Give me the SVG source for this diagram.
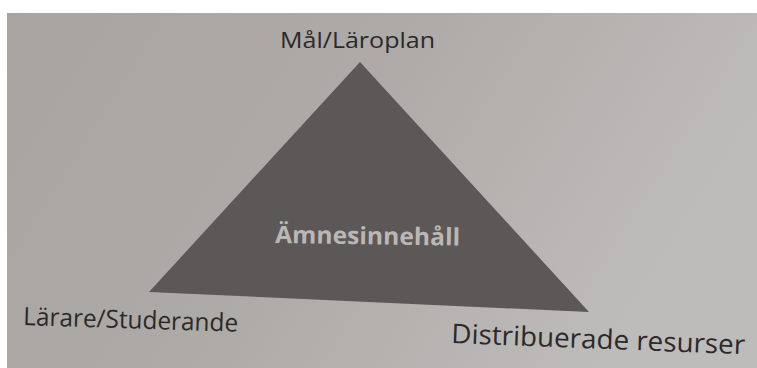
<svg xmlns="http://www.w3.org/2000/svg" width="757" height="368" viewBox="0 0 757 368">
  <defs>
    <linearGradient id="paper" x1="0" y1="0" x2="1" y2="0.3">
      <stop offset="0" stop-color="#a7a4a1"/>
      <stop offset="0.5" stop-color="#adaaa7"/>
      <stop offset="1" stop-color="#bebcba"/>
    </linearGradient>
  </defs>
  <style>
    .lbl { font-family: "Open Sans", "Noto Sans", "Liberation Sans", sans-serif; fill: #2b2929; }
    .inner { font-family: "Open Sans", "Noto Sans", "Liberation Sans", sans-serif; font-weight: bold; fill: #bbb7b4; }
    .tri { fill: #5c5857; }
  </style>
  <rect x="0" y="0" width="757" height="368" fill="#ffffff"/>
  <rect x="7" y="13" width="750" height="355" fill="url(#paper)"/>

  <g id="triangle">
    <polygon class="tri" points="360,62 149,292 589,312"/>
    <text class="inner" x="275" y="243" font-size="24" textLength="185" lengthAdjust="spacingAndGlyphs" transform="rotate(0.8 275 243)">Ämnesinnehåll</text>
  </g>

  <g id="node-mal">
    <text class="lbl" x="280" y="48" font-size="22" textLength="155" lengthAdjust="spacingAndGlyphs">Mål/Läroplan</text>
  </g>

  <g id="node-larare">
    <text class="lbl" x="23" y="325" font-size="25" textLength="215" lengthAdjust="spacingAndGlyphs" transform="rotate(1.8 23 325)">Lärare/Studerande</text>
  </g>

  <g id="node-resurser">
    <text class="lbl" x="451" y="343" font-size="27" textLength="294" lengthAdjust="spacingAndGlyphs" transform="rotate(2.2 451 343)">Distribuerade resurser</text>
  </g>
</svg>
